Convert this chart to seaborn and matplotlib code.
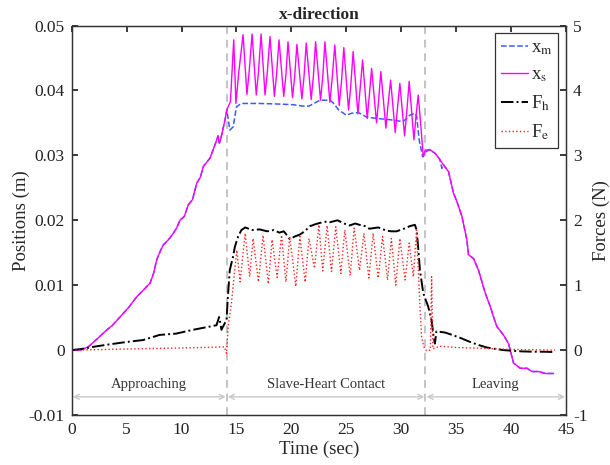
import numpy as np
import matplotlib
matplotlib.use('Agg')
import matplotlib.pyplot as plt
import seaborn as sns

# ---- data ----
# approach phase (x_s and x_m overlap)
t_app = [0, 0.8, 1.51, 2.3, 3.19, 3.7, 4.4, 5.2, 5.92, 6.5, 7.13, 7.45, 7.74, 8.05,
         8.34, 8.8, 9.25, 9.55, 9.86, 10.25, 10.62, 11.0, 11.38, 11.7, 11.99, 12.6,
         13.21, 13.32, 13.44, 13.55, 13.96, 14.12]
x_app = [0.0, 0.0, 0.0005, 0.0017, 0.0031, 0.0038, 0.0051, 0.0066, 0.0082, 0.0092,
         0.0103, 0.0118, 0.0139, 0.0152, 0.0162, 0.0170, 0.0180, 0.0188, 0.0200,
         0.0206, 0.0224, 0.0232, 0.0257, 0.0266, 0.0283, 0.0296, 0.0324, 0.0330,
         0.0319, 0.0324, 0.0355, 0.0370]

# slave position during contact (trough, shoulder, peak per beat)
t_xs = [14.45, 14.75, 14.95, 15.2, 15.6,
        15.95, 16.15, 16.42,
        16.8, 17.0, 17.24,
        17.6, 17.8, 18.05,
        18.45, 18.65, 18.87,
        19.3, 19.5, 19.69,
        20.1, 20.3, 20.5,
        20.95, 21.15, 21.35,
        21.8, 22.0, 22.2,
        22.65, 22.85, 23.05,
        23.5, 23.7, 23.95,
        24.35, 24.55, 24.77,
        25.2, 25.4, 25.62,
        26.05, 26.25, 26.48,
        26.9, 27.1, 27.3,
        27.75, 27.95, 28.14,
        28.6, 28.8, 29.03,
        29.45, 29.65, 29.87,
        30.3, 30.5, 30.72,
        31.15, 31.35, 31.54,
        31.75, 32.0]
x_s_contact = [0.0383, 0.0478, 0.0380, 0.0427, 0.0486,
               0.0394, 0.0428, 0.0487,
               0.0393, 0.0428, 0.0487,
               0.0393, 0.0427, 0.0483,
               0.0391, 0.0425, 0.0478,
               0.0391, 0.0424, 0.0475,
               0.0389, 0.0422, 0.0471,
               0.0387, 0.0422, 0.0473,
               0.0386, 0.0422, 0.0475,
               0.0385, 0.0420, 0.0475,
               0.0382, 0.0417, 0.0470,
               0.0377, 0.0412, 0.0466,
               0.0370, 0.0407, 0.0460,
               0.0364, 0.0402, 0.0447,
               0.0357, 0.0394, 0.0434,
               0.0350, 0.0387, 0.0429,
               0.0342, 0.0379, 0.0416,
               0.0335, 0.0372, 0.0411,
               0.0330, 0.0367, 0.0414,
               0.0324, 0.0362, 0.0393,
               0.0352, 0.0298]

# leaving phase
t_leave = [32.18, 32.6, 33.09, 33.5, 33.84, 34.3, 34.75, 35.06, 35.52, 35.97, 36.12,
           36.58, 37.03, 37.64, 38.1, 38.4, 38.71, 39.31, 39.76, 40.22, 40.83, 41.44,
           41.89, 42.5, 43.11, 43.86]
x_leave = [0.0308, 0.0309, 0.0303, 0.0294, 0.0285, 0.0275, 0.0242, 0.0229, 0.0206,
           0.0170, 0.0147, 0.0141, 0.0123, 0.0088, 0.0067, 0.0051, 0.0036, 0.0023,
           0.0010, -0.0020, -0.0028, -0.0028, -0.0033, -0.0033, -0.0036, -0.0036]

# master position during contact / early leaving
t_xm = [14.4, 14.7, 15.0, 15.45, 17.1, 19.0, 20.2, 21.0, 21.6, 22.6, 23.5, 23.8, 24.3,
        25.0, 25.5, 26.1, 26.84, 27.75, 28.96, 30.17, 30.78, 31.24, 31.4, 31.63, 31.94,
        32.3, 32.6, 33.09, 33.5, 33.7, 33.84, 34.3]
x_m_contact = [0.0339, 0.0344, 0.0375, 0.0380, 0.0380, 0.0379, 0.0378, 0.0376, 0.0376,
               0.0385, 0.0385, 0.0381, 0.0370, 0.0362, 0.0365, 0.0366, 0.0359, 0.0357,
               0.0355, 0.0352, 0.0362, 0.0365, 0.0360, 0.0324, 0.0298, 0.0306, 0.0309,
               0.0303, 0.0294, 0.0280, 0.0286, 0.0275]

# human force F_h
t_fh = [0, 1.0, 1.94, 3.5, 4.98, 6.5, 8.0, 9.5, 11.05, 12.57, 13.18, 13.42, 13.55, 13.63,
        13.93, 14.09, 14.24, 14.39, 14.69, 14.85, 15.15, 15.45, 15.8, 16.4, 17.1, 17.8,
        18.4, 18.9, 19.3, 19.6, 19.85, 20.3, 20.77, 21.2, 21.7, 22.2, 22.6, 23.2, 23.5,
        24.2, 24.8, 25.3, 25.8, 26.2, 26.7, 27.1, 27.9, 28.66, 29.1, 29.57, 29.9, 30.4,
        30.78, 31.24, 31.4, 31.55, 31.7, 32.0, 32.45, 32.76, 32.9, 33.06, 33.2, 34.0,
        34.7, 35.5, 36.2, 37.0, 37.8, 38.5, 39.3, 40.1, 41.0, 42.0, 43.0, 44.0]
f_h = [0.0, 0.02, 0.05, 0.09, 0.125, 0.155, 0.234, 0.254, 0.313, 0.363, 0.383, 0.51, 0.40,
       0.313, 0.412, 0.46, 0.877, 1.233, 1.44, 1.59, 1.75, 1.85, 1.89, 1.85, 1.86, 1.83,
       1.85, 1.81, 1.83, 1.77, 1.71, 1.75, 1.78, 1.83, 1.91, 1.94, 1.96, 1.98, 1.97,
       2.0, 1.95, 1.92, 1.95, 1.93, 1.91, 1.87, 1.89, 1.84, 1.83, 1.83, 1.85, 1.88,
       1.91, 1.93, 1.85, 1.55, 1.23, 0.88, 0.67, 0.46, 0.26, 0.10, 0.29, 0.27,
       0.23, 0.18, 0.13, 0.08, 0.04, 0.02, 0.0, -0.01, -0.02, -0.025, -0.025, -0.03]

# environment force F_e
t_fe = [0, 3.0, 6.0, 9.0, 12.0, 13.9, 14.09, 14.24, 14.54, 14.69,
        15.03, 15.33, 15.79, 16.2, 16.51, 17.0, 17.42, 17.9, 18.24, 18.7,
        19.1, 19.5, 19.85, 20.4, 20.77, 21.25, 21.6, 22.1, 22.5, 22.85,
        23.25, 23.65, 24.04, 24.5, 24.86, 25.35, 25.71, 26.2, 26.6, 27.05,
        27.44, 27.9, 28.3, 28.75, 29.1, 29.5, 29.87, 30.35, 30.72, 31.1,
        31.39, 31.7, 31.85, 32.06, 32.3, 32.65, 32.76, 32.88, 33.5, 35.0,
        37.0, 40.0, 44.0]
f_e = [0.0, 0.01, 0.02, 0.03, 0.04, 0.05, -0.05, 0.36, 0.72, 0.98,
       1.54, 1.05, 1.80, 1.13, 1.72, 1.05, 1.77, 1.02, 1.70, 1.12,
       1.77, 1.05, 1.75, 0.98, 1.75, 1.05, 1.72, 1.26, 1.93, 1.22,
       1.92, 1.21, 1.90, 1.18, 1.85, 1.15, 1.88, 1.23, 1.80, 1.11,
       1.80, 1.11, 1.75, 1.08, 1.72, 1.00, 1.72, 1.08, 1.65, 1.13,
       1.85, 0.67, 0.20, 0.05, -0.01, 0.0, 1.13, 0.02, 0.06, 0.04,
       0.03, 0.01, 0.0]

phase_bounds = [0, 14.12, 32.2, 45]
phase_names = ['Approaching', 'Slave-Heart Contact', 'Leaving']

# assemble full series
t_s = np.array(t_app + t_xs + t_leave)
x_s = np.array(x_app + x_s_contact + x_leave)
t_m = np.array(t_app + t_xm + t_leave[6:])
x_m = np.array(x_app + x_m_contact + x_leave[6:])

sns.set_theme(style='white')
plt.rcParams['font.family'] = ['Liberation Serif', 'DejaVu Serif']
plt.rcParams['mathtext.fontset'] = 'stix'
plt.rcParams['axes.unicode_minus'] = False

fig, ax = plt.subplots(figsize=(6.1, 4.65), dpi=100)
fig.subplots_adjust(left=0.1175, right=0.928, bottom=0.1075, top=0.945)
ax2 = ax.twinx()

sns.lineplot(x=t_m, y=x_m, ax=ax, color='#3a5cff', linestyle='--', linewidth=1.1,
             estimator=None, sort=False, label=r'x$_\mathrm{m}$')
sns.lineplot(x=t_s, y=x_s, ax=ax, color='#ff00ff', linewidth=1.0,
             estimator=None, sort=False, label=r'x$_\mathrm{s}$')
sns.lineplot(x=t_fh, y=f_h, ax=ax2, color='black', linestyle='-.', linewidth=1.4,
             estimator=None, sort=False, label=r'F$_\mathrm{h}$')
sns.lineplot(x=t_fe, y=f_e, ax=ax2, color='#ff2020', linestyle=':', linewidth=1.0,
             estimator=None, sort=False, label=r'F$_\mathrm{e}$')

for a in (ax, ax2):
    if a.get_legend() is not None:
        a.get_legend().remove()

ax.set_xlim(0, 45)
ax.set_ylim(-0.01, 0.05)
ax2.set_ylim(-1, 5)
ax.set_xticks(range(0, 46, 5))
ax.set_yticks([-0.01, 0, 0.01, 0.02, 0.03, 0.04, 0.05])
ax.set_yticklabels(['-0.01', '0', '0.01', '0.02', '0.03', '0.04', '0.05'])
ax2.set_yticks(range(-1, 6))

# phase separators and arrows
for b in phase_bounds[1:3]:
    ax.axvline(b, color='#c4c4c4', linestyle=(0, (4, 3)), linewidth=1.4, zorder=0)
for i, name in enumerate(phase_names):
    lo, hi = phase_bounds[i], phase_bounds[i + 1]
    ax.annotate('', xy=(lo + 0.1, -0.0072), xytext=(hi - 0.1, -0.0072),
                arrowprops=dict(arrowstyle='<->', color='#c8c8c8', lw=1.0,
                                mutation_scale=9, shrinkA=0, shrinkB=0))
    ax.text((lo + hi) / 2, -0.0053, name, ha='center', va='center',
            fontsize=10.5, color='#333333')

for a in (ax, ax2):
    a.tick_params(direction='in', length=4, labelsize=12.5, colors='#222222', pad=5)
    for s in a.spines.values():
        s.set_color('#333333')
        s.set_linewidth(0.9)
ax.tick_params(top=True, right=False)
ax2.tick_params(right=True)

ax.set_xlabel('Time (sec)', fontsize=13.5, labelpad=2)
ax.set_ylabel('Positions (m)', fontsize=13.5, labelpad=-1)
ax2.set_ylabel('Forces (N)', fontsize=13.5, labelpad=4)
ax.set_title('x-direction', fontsize=12.5, fontweight='bold', pad=5)

h1, l1 = ax.get_legend_handles_labels()
h2, l2 = ax2.get_legend_handles_labels()
leg = ax2.legend(h1 + h2, l1 + l2, loc='upper right', fontsize=13.5, frameon=True,
                 fancybox=False, edgecolor='#333333', framealpha=1,
                 handlelength=1.45, borderpad=0.3, labelspacing=0.5,
                 bbox_to_anchor=(0.984, 0.98), handletextpad=0.15,
                 borderaxespad=0)
leg.get_frame().set_linewidth(0.9)

fig.savefig('out.png', dpi=100)
